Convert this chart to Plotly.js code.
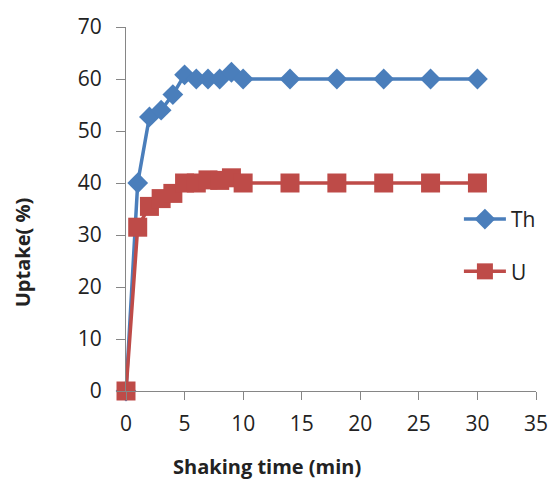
<!DOCTYPE html>
<html>
<head>
<meta charset="utf-8">
<script src="https://cdn.plot.ly/plotly-3.0.1.min.js"></script>
<style>html,body{margin:0;padding:0;background:#fff;}#chart{width:552px;height:479px;}</style>
</head>
<body>
<div id="chart"></div>
<script>
const timeTh = [0, 1, 2, 3, 4, 5, 6, 7, 8, 9, 10, 14, 18, 22, 26, 30];
const uptakeTh = [0, 40, 52.7, 54, 57, 60.8, 60, 60, 60, 61.3, 60, 60, 60, 60, 60, 60];
const timeU = [0, 1, 2, 3, 4, 5, 6, 7, 8, 9, 10, 14, 18, 22, 26, 30];
const uptakeU = [0, 31.5, 35.5, 37, 38, 40, 40, 40.6, 40.5, 41, 40, 40, 40, 40, 40, 40];
const xTicks = [0, 5, 10, 15, 20, 25, 30, 35];
const yTicks = [0, 10, 20, 30, 40, 50, 60, 70];

const font = "'Open Sans', 'Liberation Sans', sans-serif";

const traces = [
  {x: timeTh, y: uptakeTh, name: 'Th', type: 'scatter', mode: 'lines+markers', legendgroup: 'a',
   line: {color: '#4A7EBB', width: 3.5}, marker: {symbol: 'diamond', size: 16, color: '#4A7EBB'}, cliponaxis: false},
  {x: timeU, y: uptakeU, name: 'U', type: 'scatter', mode: 'lines+markers', legendgroup: 'b',
   line: {color: '#BE4B48', width: 3.5}, marker: {symbol: 'square', size: 19, color: '#BE4B48'}, cliponaxis: false}
];

const layout = {
  width: 552, height: 479,
  margin: {l: 126, r: 15, t: 27, b: 88},
  paper_bgcolor: '#fff', plot_bgcolor: '#fff',
  font: {family: font, size: 21, color: '#222'},
  showlegend: true,
  legend: {x: 0.81, y: 0.40, xanchor: 'left', yanchor: 'middle', tracegroupgap: 22, itemwidth: 42,
           font: {family: font, size: 21, color: '#222'}, bgcolor: 'rgba(0,0,0,0)'},
  xaxis: {range: [0, 35], tickvals: xTicks, ticktext: xTicks.map(String), showgrid: false, zeroline: false,
          showline: true, linecolor: '#868686', linewidth: 1, ticks: 'outside', ticklen: 8, tickcolor: '#868686',
          ticklabelstandoff: 6, fixedrange: true},
  yaxis: {range: [0, 70], tickvals: yTicks, ticktext: yTicks.map(String), showgrid: false, zeroline: false,
          showline: true, linecolor: '#868686', linewidth: 1, ticks: 'outside', ticklen: 9, tickcolor: '#868686',
          ticklabelstandoff: 10, fixedrange: true},
  annotations: [
    {text: '<b>Uptake( %)</b>', xref: 'paper', yref: 'paper', x: (22 - 126) / 411, y: (391 - 252) / 364,
     xanchor: 'center', yanchor: 'middle', textangle: -90, showarrow: false, font: {family: font, size: 20, color: '#222'}},
    {text: '<b>Shaking time (min)</b>', xref: 'paper', yref: 'paper', x: (267 - 126) / 411, y: (391 - 466) / 364,
     xanchor: 'center', yanchor: 'middle', showarrow: false, font: {family: font, size: 20, color: '#222'}}
  ]
};

Plotly.newPlot('chart', traces, layout, {displayModeBar: false, staticPlot: true});
</script>
</body>
</html>
